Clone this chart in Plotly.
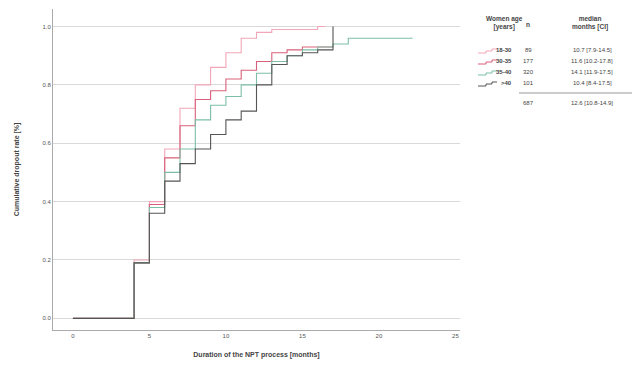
import plotly.graph_objects as go

# ---- data (approximate) ----
groups = ["18-30", "30-35", "35-40", ">40"]
group_n = ["89", "177", "320", "101"]
group_median = ["10.7 [7.9-14.5]", "11.6 [10.2-17.8]", "14.1 [11.9-17.5]", "10.4 [8.4-17.5]"]
total_n = "687"
total_median = "12.6 [10.8-14.9]"

t_pink = [0, 4, 5, 6, 7, 8, 9, 10, 11, 12, 13, 16, 16.5]
v_pink = [0, 0.20, 0.40, 0.58, 0.72, 0.80, 0.86, 0.91, 0.96, 0.98, 0.99, 1.00, 1.00]

t_red = [0, 4, 5, 6, 7, 8, 9, 10, 11, 12, 13, 14, 15, 16, 17]
v_red = [0, 0.19, 0.39, 0.55, 0.66, 0.75, 0.78, 0.82, 0.85, 0.88, 0.91, 0.92, 0.93, 0.93, 0.93]

t_teal = [0, 4, 5, 6, 7, 8, 9, 10, 11, 12, 13, 14, 15, 16, 17, 18, 22.2]
v_teal = [0, 0.19, 0.38, 0.50, 0.58, 0.68, 0.73, 0.76, 0.80, 0.84, 0.88, 0.90, 0.92, 0.93, 0.94, 0.96, 0.96]

t_dark = [0, 4, 5, 6, 7, 8, 9, 10, 11, 12, 13, 14, 15, 16, 17]
v_dark = [0, 0.19, 0.36, 0.47, 0.53, 0.58, 0.63, 0.68, 0.71, 0.80, 0.87, 0.90, 0.91, 0.92, 1.00]

series_t = [t_pink, t_red, t_teal, t_dark]
series_v = [v_pink, v_red, v_teal, v_dark]
colors = ["#f2a7b8", "#d9607a", "#7cbfa6", "#555555"]

x_ticks = [0, 5, 10, 15, 20, 25]
y_ticks = [0.0, 0.2, 0.4, 0.6, 0.8, 1.0]
y_tick_text = ["0.0", "0.2", "0.4", "0.6", "0.8", "1.0"]

# plot area in window pixels; page body has an 8px offset
OFF = 8
L, R, T, B = 53, 460, 9, 330
W, H = 640 - OFF, 370 - OFF

fig = go.Figure()
for t, v, c, g in zip(series_t, series_v, colors, groups):
    fig.add_trace(go.Scatter(x=t, y=v, mode="lines", line=dict(color=c, width=1.1, shape="hv"),
                             name=g, showlegend=False))

fig.update_layout(
    width=W, height=H,
    margin=dict(l=L - OFF, r=640 - R, t=T - OFF, b=370 - B, autoexpand=False),
    paper_bgcolor="white", plot_bgcolor="white",
    font=dict(family="Liberation Sans, Arial, sans-serif", size=7, color="#444"),
    xaxis=dict(range=[-1.3, 25.3], tickvals=x_ticks, showgrid=False, zeroline=False, automargin=False,
               showline=True, linecolor="#aaa", linewidth=1, ticks="", tickfont=dict(size=6, color="#555"),
               title=dict(text="<b>Duration of the NPT process [months]</b>", font=dict(size=7, color="#444"),
                          standoff=13)),
    yaxis=dict(range=[-0.04, 1.06], tickvals=y_ticks, ticktext=y_tick_text, showgrid=True, automargin=False,
               gridcolor="#d9d9d9", gridwidth=1, zeroline=False, showline=True, linecolor="#aaa",
               linewidth=1, ticks="", tickfont=dict(size=6, color="#555"),
               title=dict(text="<b>Cumulative dropout rate [%]</b>", font=dict(size=7, color="#444"),
                          standoff=22)),
)

# ---- legend table drawn with annotations (window pixel -> paper coords) ----
def px_x(p):
    return (p - L) / (R - L)

def px_y(p):
    return (B - p) / (B - T)

def ann(x, y, text, anchor="center", size=6, bold=False):
    fig.add_annotation(x=px_x(x), y=px_y(y), xref="paper", yref="paper", showarrow=False,
                       text=("<b>" + text + "</b>") if bold else text,
                       font=dict(size=size, color="#444"), xanchor=anchor, yanchor="middle")

ann(504, 23, "Women age<br>[years]", size=6.5, bold=True)
ann(528, 24, "n", size=6.5, bold=True)
ann(590, 23, "median<br>months [CI]", size=6.5, bold=True)

row_y = [50, 61, 72, 83]
for i, (g, n, m, c) in enumerate(zip(groups, group_n, group_median, colors)):
    yy = row_y[i]
    ann(514, yy, g, anchor="right", bold=True)
    ann(528, yy, n)
    ann(592, yy, m)
    fig.add_shape(type="path", xref="paper", yref="paper",
                  path=f"M {px_x(478)},{px_y(yy+3)} L {px_x(486)},{px_y(yy+3)} L {px_x(486)},{px_y(yy+1)} "
                       f"L {px_x(492)},{px_y(yy+1)} L {px_x(492)},{px_y(yy-1)} L {px_x(497)},{px_y(yy-1)}",
                  line=dict(color=c, width=1))

fig.add_shape(type="line", xref="paper", yref="paper", x0=px_x(519), x1=px_x(632), y0=px_y(93), y1=px_y(93),
              line=dict(color="#999", width=1))
ann(528, 103, total_n)
ann(592, 103, total_median)

fig.write_html("out.html")
